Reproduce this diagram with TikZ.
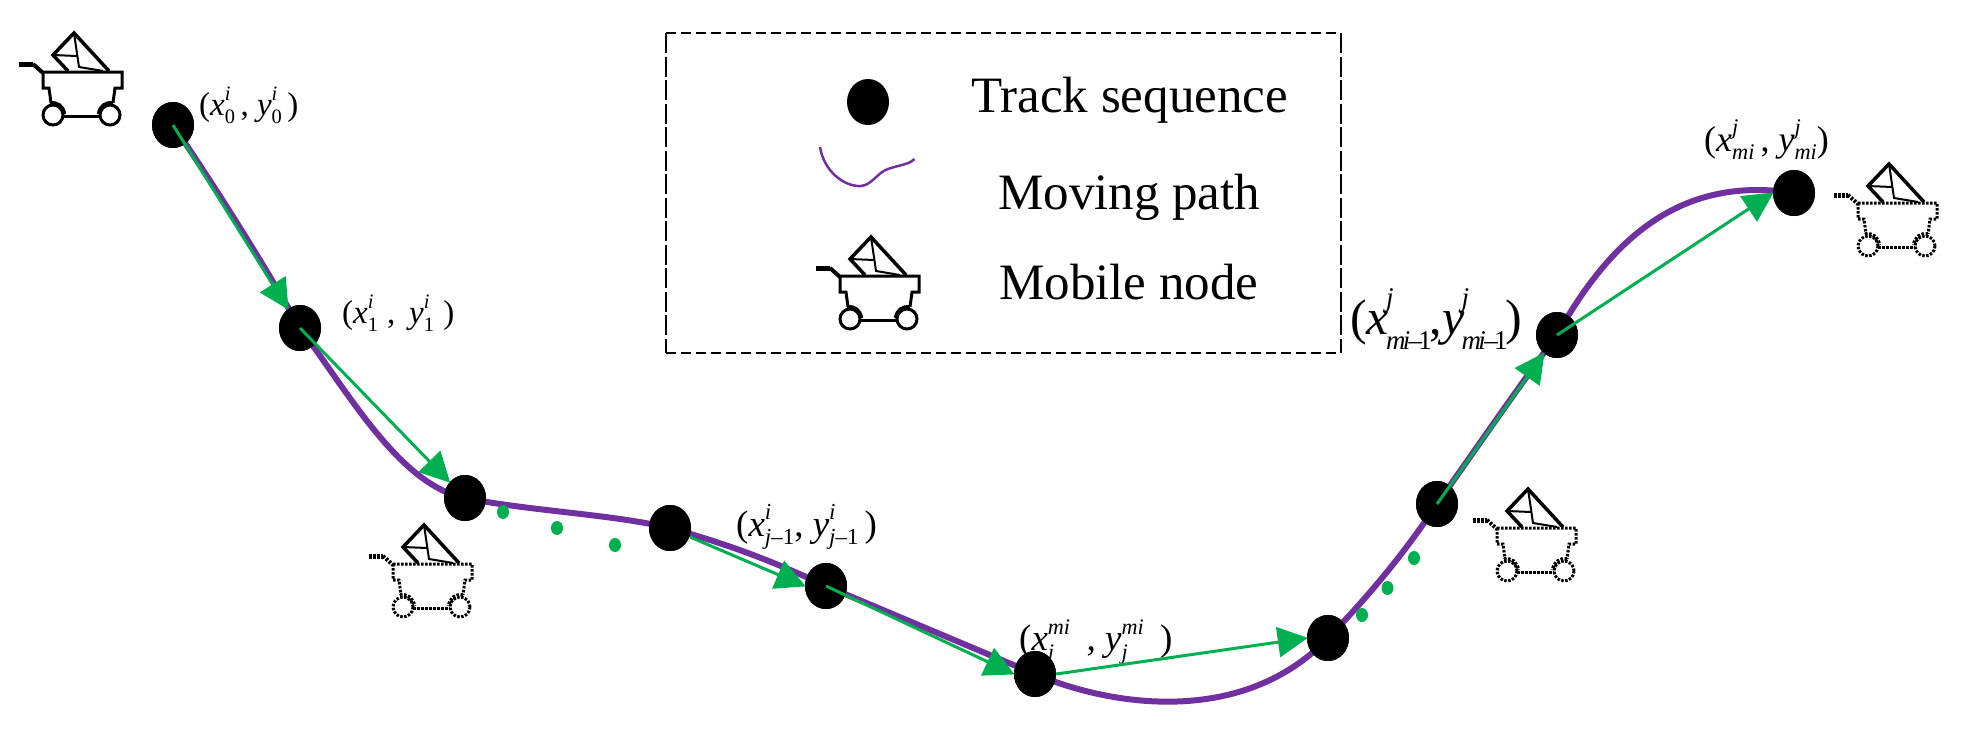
\documentclass[tikz,border=0pt]{standalone}
\usepackage{fontspec}
\setmainfont{Liberation Serif}
\usetikzlibrary{arrows.meta,shapes.geometric}
\definecolor{pathpurple}{HTML}{7030A0}
\definecolor{arrowgreen}{HTML}{00B050}
\tikzset{
 trk/.style={ellipse,fill=black,draw=none,minimum width=42pt,minimum height=46pt,inner sep=0pt},
 gdot/.style={ellipse,fill=arrowgreen,draw=none,minimum width=12pt,minimum height=14pt,inner sep=0pt},
 movepath/.style={draw=pathpurple,line width=6pt},
 stepline/.style={draw=arrowgreen,line width=3pt,-{Triangle[length=30pt,width=30pt]},shorten >=-1pt},
 legtext/.style={anchor=base west,inner sep=0pt,font=\fontsize{51}{55}\selectfont},
 lab/.style={anchor=west,inner sep=0pt,font=\fontsize{33}{36}\selectfont},
 labmid/.style={anchor=west,inner sep=0pt,font=\fontsize{37}{40}\selectfont},
 labbig/.style={anchor=west,inner sep=0pt,font=\fontsize{50}{54}\selectfont},
 cartsolid/.style={solid},
 cartdot/.style={dash pattern=on 2.5pt off 1.5pt},
}
\newcommand\scrup{0.45em}
\newcommand\scrdn{0.24em}
% scripts stacked after a letter: [size ratio], sup, sub
\newcommand\scr[3][0.62]{\begingroup\dimen4=\scrup\relax\dimen6=\scrdn\relax
 \setbox0=\hbox{\fontsize{#1em}{1em}\selectfont\raisebox{\dimen4}{\itshape #2}}%
 \setbox2=\hbox{\fontsize{#1em}{1em}\selectfont\raisebox{-\dimen6}{#3}}%
 \ifdim\wd0>\wd2 \rlap{\box2}\box0 \else\rlap{\box0}\box2 \fi\endgroup}
\newcommand\mione{\textit{m}\kern-.1em\textit{i}\kern-.06em–\kern-.14em 1}
\newcommand\cartpic[3]{%
 \begin{scope}[shift={(#1,#2)},line cap=butt,line join=miter]
  \draw[#3,line width=5pt] (0,32)--(14,32);
  \draw[#3,line width=4pt] (14,32)--(24,41);
  \draw[#3,line width=3pt] (24,40)--(103,40)--(103,56)--(96,56)--(94,71);
  \draw[#3,line width=3pt] (24,40)--(24,56)--(30,56)--(32,71);
  \draw[#3,line width=3pt] (44,84)--(81,84);
  \draw[#3,line width=3pt] (34,83) circle[radius=10pt];
  \draw[#3,line width=3pt] (91,83) circle[radius=10pt];
  \draw[#3,line width=3.5pt] (31,71) .. controls (39,70) and (44,74) .. (45.5,82);
  \draw[#3,line width=3.5pt] (94,71) .. controls (86,70) and (81,74) .. (79.5,82);
  \draw[line width=3.5pt] (49,39)--(34,23)--(55,1)--(90,39);
  \draw[line width=2pt] (55,1)--(60,35)--(84,39);
  \draw[line width=2pt] (34,23)--(58,24);
 \end{scope}}
\begin{document}
\begin{tikzpicture}[x=1pt,y=-1pt]
\useasboundingbox (0,0) rectangle (1964,737);
% legend box
\coordinate (bl) at (666,353);
\coordinate (tl) at (666,33);
\coordinate (tr) at (1341,33);
\coordinate (br) at (1341,353);
\draw[line width=2.5pt,dash pattern=on 10pt off 5pt] (tl)--(tr);
\draw[line width=2.5pt,dash pattern=on 10pt off 5pt] (bl)--(br);
\draw[line width=1.8pt,dash pattern=on 20pt off 3.5pt] (tl)--(bl);
\draw[line width=1.8pt,dash pattern=on 20pt off 3.5pt] (tr)--(br);
% legend content
\node[trk] (legdot) at (868,102) {};
\node[legtext] (legA) at (971,112) {Track sequence};
\node[legtext] (legB) at (998,209) {Moving path};
\node[legtext] (legC) at (999,299) {Mobile node};
\draw[draw=pathpurple,line width=2.5pt] (820,147) .. controls (824,172) and (845,187) .. (861,186) .. controls (872,185) and (878,172) .. (888,169) .. controls (899,165) and (908,165) .. (914.5,159);
\cartpic{816}{236}{cartsolid}
% carts
\cartpic{19}{32}{cartsolid}
\cartpic{369}{524}{cartdot}
\cartpic{1473}{488}{cartdot}
\cartpic{1834}{163}{cartdot}
% labels
\node[lab] (l0) at (199,105) {(\textit{x}\scr{i}{0}\,, \textit{y}\scr{i}{0}\,)};
\node[lab] (l1) at (342,313) {(\textit{x}\scr{i}{1}\;, \,\textit{y}\scr{i}{1}\;)};
\node[labmid] (l2) at (736,527) {(\textit{x}\scr{i}{\textit{j}–1}, \textit{y}\scr{i}{\textit{j}–1}\,)};
\node[labmid] (l3) at (1019,642) {(\textit{x}\scr[0.6]{mi}{\textit{j}}\;\,, \textit{y}\scr[0.6]{mi}{\textit{j}}\;\,)};
\node[labbig] (l4) at (1350,319) {\renewcommand\scrup{0.55em}\renewcommand\scrdn{0.3em}(\textit{x}\kern-.06em\scr[0.54]{j}{\mione}\kern-.04em,\textit{y}\kern-.06em\scr[0.54]{j}{\mione}\kern-.04em)};
\node[lab,font=\fontsize{36}{40}\selectfont] (l5) at (1704,140) {(\textit{x}\scr{j}{\textit{mi}}\,, \textit{y}\scr{j}{\textit{mi}})};
% track nodes
\node[trk] (n0) at (173,125) {};
\node[trk] (n1) at (300,328) {};
\node[trk] (n2) at (465,498) {};
\node[trk] (n3) at (670,528) {};
\node[trk] (n4) at (826,586) {};
\node[trk] (n5) at (1035,674) {};
\node[trk] (n6) at (1328,638) {};
\node[trk] (n7) at (1437,504) {};
\node[trk] (n8) at (1557,335) {};
\node[trk] (n9) at (1794,193) {};
% moving path
\draw[movepath] (n0.center) .. controls (217,190) and (260,258) .. (n1.center)
  .. controls (350,395) and (400,485) .. (n2.center)
  .. controls (530,511) and (610,514) .. (n3.center)
  .. controls (730,545) and (770,560) .. (n4.center)
  -- (n5.center)
  .. controls (1115,708) and (1245,725) .. (n6.center)
  .. controls (1360,605) and (1400,560) .. (n7.center)
  .. controls (1475,450) and (1520,385) .. (n8.center)
  .. controls (1610,240) and (1680,175) .. (n9.center);
% nodes over the path
\foreach \n in {n0,n1,n2,n3,n4,n5,n6,n7,n8,n9}
  \fill (\n) ellipse[x radius=21pt,y radius=23pt];
% step arrows
\coordinate (a3) at (690,537);
\draw[stepline] (n0.center) -- (n1);
\draw[stepline] (n1.center) -- (n2);
\draw[stepline] (a3) -- (n4.west);
\draw[stepline] (n4.center) -- (n5.west);
\draw[stepline] (n5.east) -- (n6.west);
\draw[stepline] (n7.center) -- (n8);
\draw[stepline] (n8.center) -- (n9.west);
% green ellipsis dots
\node[gdot] (d1) at (503,512) {};
\node[gdot] (d2) at (557,528) {};
\node[gdot] (d3) at (615,545) {};
\node[gdot] (d4) at (1362,615) {};
\node[gdot] (d5) at (1387.5,588) {};
\node[gdot] (d6) at (1414,558) {};
\end{tikzpicture}
\end{document}
